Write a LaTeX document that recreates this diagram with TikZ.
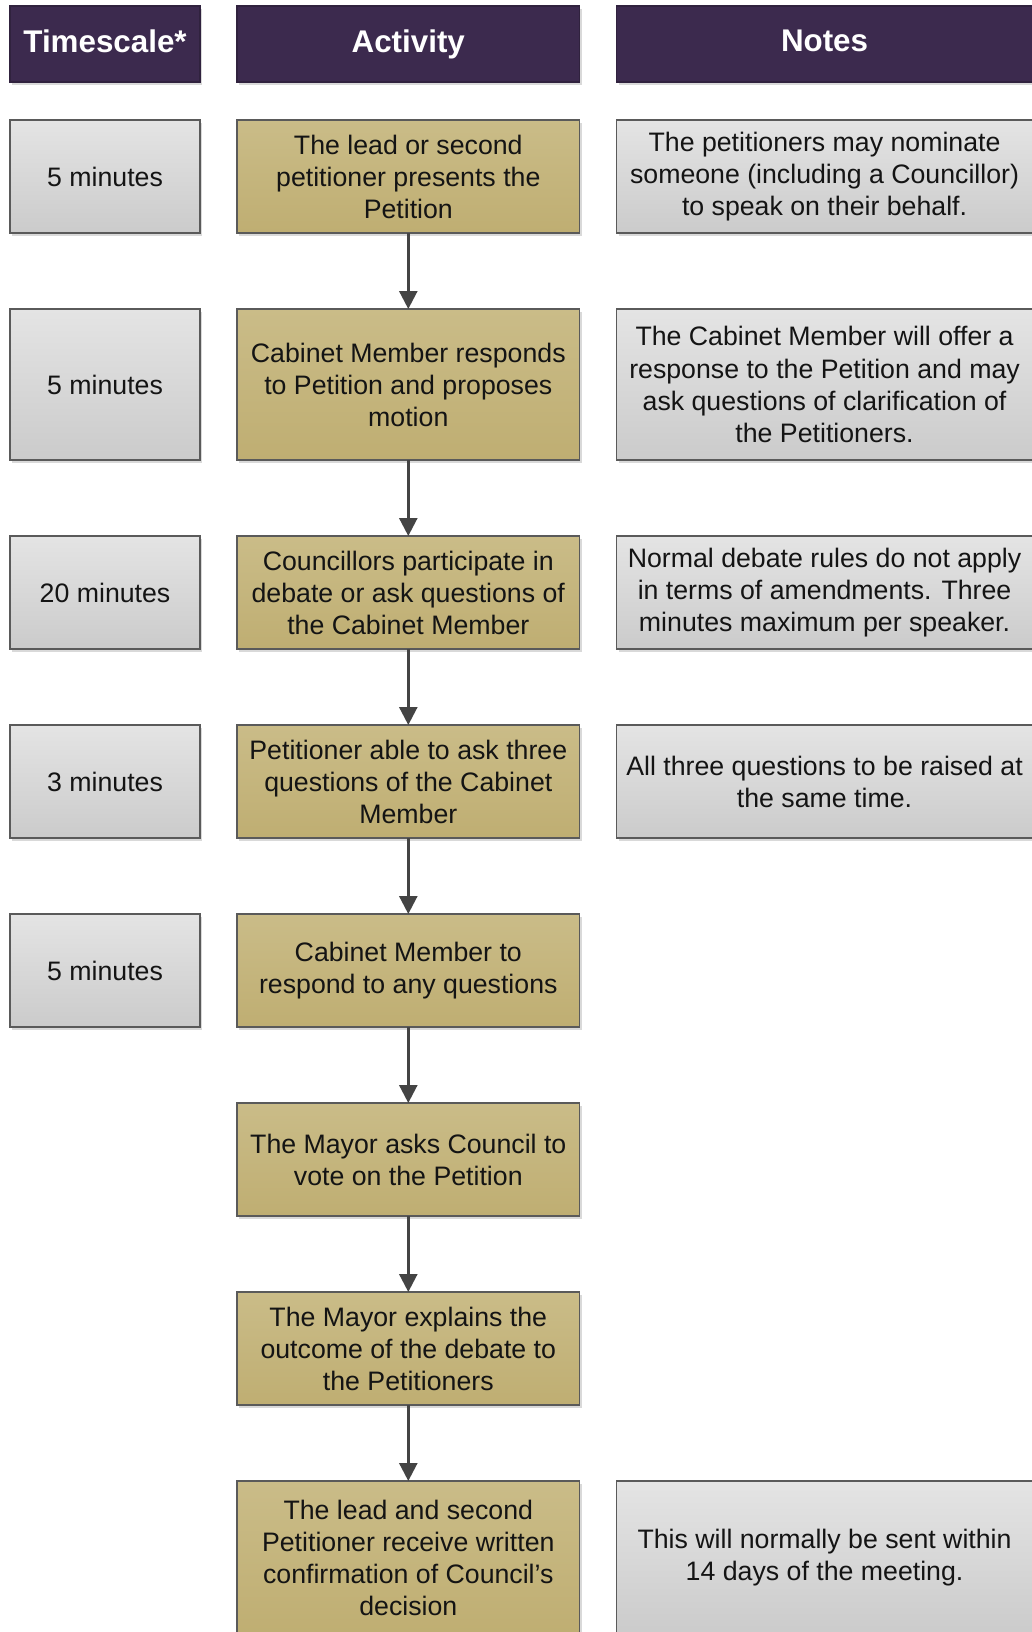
\documentclass[tikz,border=0pt]{standalone}
\usepackage{fontspec}
\setmainfont{Liberation Sans}
\usetikzlibrary{positioning,shadows,arrows.meta}
\definecolor{headpurple}{HTML}{3C2A4E}
\definecolor{goldtop}{HTML}{CABC88}
\definecolor{goldbot}{HTML}{BFAE72}
\definecolor{graytop}{HTML}{E4E4E4}
\definecolor{graybot}{HTML}{CBCBCB}
\definecolor{boxline}{HTML}{5A5A5A}
\definecolor{arrowgray}{HTML}{444444}
\def\colsep{0.925cm}
\def\rowsep{1.9cm}

\begin{document}
\begin{tikzpicture}[node distance=\rowsep and \colsep]
            \tikzstyle{box}=[rectangle, draw=boxline, line width=0.04cm, inner sep=0pt, outer sep=0pt, align=center,
                             text=black!92, font=\fontsize{19}{22.8}\selectfont,
                             drop shadow={shadow xshift=0.05cm, shadow yshift=-0.07cm, fill=black, opacity=0.15}]
            \tikzstyle{headbox}=[box, fill=headpurple, draw=headpurple!80!black, minimum height=1.9cm,
                                 text=white, execute at begin node={\vphantom{Ay}},
                                 font=\fontsize{22.3}{26}\selectfont\bfseries]
            \tikzstyle{activity}=[box, top color=goldtop, bottom color=goldbot, minimum width=8.5625cm, minimum height=2.825cm]
            \tikzstyle{tall}=[minimum height=3.775cm]
            \tikzstyle{last}=[minimum height=3.85cm]
            \tikzstyle{timescale}=[box, top color=graytop, bottom color=graybot, minimum width=4.75cm, minimum height=2.825cm]
            \tikzstyle{notebox}=[timescale, minimum width=10.4cm]
            \tikzstyle{flowarrow}=[draw=arrowgray, line width=0.065cm, -{Triangle[length=0.45cm,width=0.45cm]}]

            \useasboundingbox (0,0) rectangle (25.8,-40.8);
            \clip (0,0) rectangle (25.8,-40.8);

            % Column headers
            \node[headbox, minimum width=8.5625cm] (acthead) at (10.2075,-1.1) {Activity};
            \node[headbox, minimum width=4.75cm, left=of acthead] (timehead) {Timescale*};
            \node[headbox, minimum width=10.4cm, right=of acthead] (notehead) {Notes};

            % Draw the activity column
            \node[activity, below=0.95cm of acthead] (act1) {The lead or second\\petitioner presents the\\Petition};
            \node[activity, tall, below=of act1] (act2) {Cabinet Member responds\\to Petition and proposes\\motion};
            \node[activity, below=of act2] (act3) {Councillors participate in\\debate or ask questions of\\the Cabinet Member};
            \node[activity, below=of act3] (act4) {Petitioner able to ask three\\questions of the Cabinet\\Member};
            \node[activity, below=of act4] (act5) {Cabinet Member to\\respond to any questions};
            \node[activity, below=of act5] (act6) {The Mayor asks Council to\\vote on the Petition};
            \node[activity, below=of act6] (act7) {The Mayor explains the\\outcome of the debate to\\the Petitioners};
            \node[activity, last, below=of act7] (act8) {The lead and second\\Petitioner receive written\\confirmation of Council’s\\decision};

            % Timescale beside the first five activities
            \foreach \i/\s/\t in {1//5 minutes,2/tall/5 minutes,3//20 minutes,4//3 minutes,5//5 minutes}
                \node[timescale, \s, left=of act\i] (time\i) {\t};

            % Notes
            \node[notebox, right=of act1] (note1) {The petitioners may nominate\\someone (including a Councillor)\\to speak on their behalf.};
            \node[notebox, tall, right=of act2] (note2) {The Cabinet Member will offer a\\response to the Petition and may\\ask questions of clarification of\\the Petitioners.};
            \node[notebox, right=of act3] (note3) {Normal debate rules do not apply\\in terms of amendments. Three\\minutes maximum per speaker.};
            \node[notebox, right=of act4] (note4) {All three questions to be raised at\\the same time.};
            \node[notebox, last, right=of act8] (note8) {This will normally be sent within\\14 days of the meeting.};

            % Connect the activities
            \foreach \a [count=\b from 2] in {1,...,7}
                \draw[flowarrow] (act\a) -- (act\b);
\end{tikzpicture}
\end{document}
